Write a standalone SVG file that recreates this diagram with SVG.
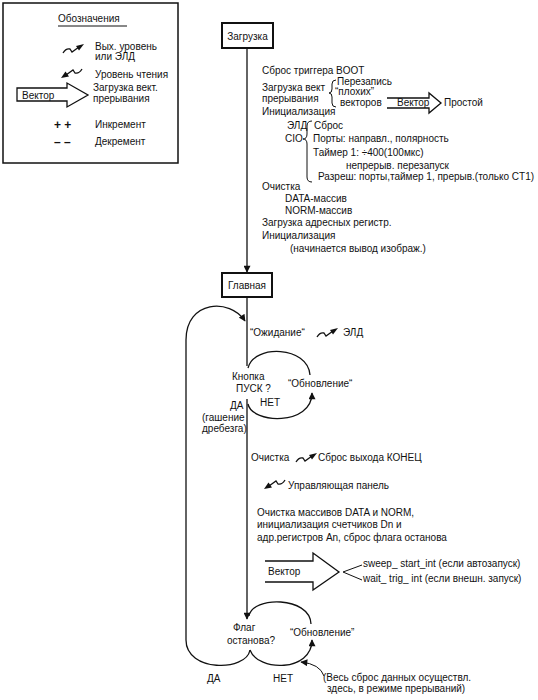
<svg xmlns="http://www.w3.org/2000/svg" xmlns:xlink="http://www.w3.org/1999/xlink" width="538" height="700" viewBox="0 0 538 700">
<style>
text{font-family:"Liberation Sans",Arial,sans-serif;font-size:10px;fill:#111}
.box{fill:#fff;stroke:#111;stroke-width:2}
.ln{fill:none;stroke:#111;stroke-width:1.3}
.thin{fill:none;stroke:#111;stroke-width:1}
.mid{text-anchor:middle}
.sign{font-size:12px;font-weight:bold}
</style>
<defs>
<marker id="ah" viewBox="0 0 10 10" refX="9" refY="5" markerWidth="8" markerHeight="7" markerUnits="userSpaceOnUse" orient="auto">
<path d="M0,0 L10,5 L0,10 Z" fill="#111"/>
</marker>
<g id="zOut">
<path d="M0,6 Q3,1 7,2 L9,5 L16,0" fill="none" stroke="#111" stroke-width="1.3"/>
<path d="M13,-1 L21,-3 L16,3.5 Z" fill="#111"/>
</g>
<g id="zIn">
<path d="M21,-3 Q18,2 14,1 L12,-2 L5,3" fill="none" stroke="#111" stroke-width="1.3"/>
<path d="M8,4.5 L0,6 L4.5,-0.5 Z" fill="#111"/>
</g>
</defs>
<rect width="538" height="700" fill="#fff"/>

<g id="legend">
<rect x="3" y="3" width="175" height="160" fill="none" stroke="#111" stroke-width="1.5"/>
<text x="58" y="22">Обозначения</text>
<line x1="58" y1="26" x2="127" y2="26" class="thin"/>
<use xlink:href="#zOut" href="#zOut" transform="translate(63,47)"/>
<text x="95" y="50">Вых. уровень</text>
<text x="95" y="60">или ЭЛД</text>
<use xlink:href="#zIn" href="#zIn" transform="translate(61,72)"/>
<text x="95" y="78">Уровень чтения</text>
<path d="M17,88 L67,88 L67,83 L88,95 L67,107 L67,101 L17,101 Z" class="ln"/>
<text x="22" y="99">Вектор</text>
<text x="93" y="91">Загрузка вект.</text>
<text x="93" y="102">прерывания</text>
<text x="54" y="129" class="sign">+ +</text>
<text x="95" y="128">Инкремент</text>
<text x="54" y="146" class="sign">– –</text>
<text x="95" y="145">Декремент</text>
</g>

<g id="connectors">
<line x1="247" y1="48" x2="247" y2="272" class="ln" marker-end="url(#ah)"/>
<line x1="247" y1="297" x2="247" y2="366" class="ln"/>
<path d="M186,640 L186,340 C186,300 230,298 245,321" class="ln" marker-end="url(#ah)"/>
<path d="M248,368 C254,344 308,346 310,375" class="ln"/>
<path d="M248,404 C252,424 312,426 312,393" class="ln" marker-end="url(#ah)"/>
<line x1="247" y1="399" x2="247" y2="619" class="ln" marker-end="url(#ah)"/>
<path d="M186,640 C186,672 246,672 250,650" class="ln"/>
<path d="M250,650 C258,672 312,672 312,640" class="ln" marker-end="url(#ah)"/>
<path d="M249,616 C252,596 310,596 311,624" class="ln"/>
<path d="M324,676 Q320,664 301,662" class="thin" marker-end="url(#ah)"/>
</g>

<g id="n-boot">
<rect x="222" y="23" width="51" height="25" class="box"/>
<text x="247.5" y="40" class="mid">Загрузка</text>
</g>

<g id="n-boot-steps">
<text x="262" y="74">Сброс триггера BOOT</text>
<text x="262" y="91">Загрузка вект</text>
<text x="262" y="102">прерывания</text>
<path d="M336,80 Q332,80 332,84 L332,89 Q332,93 329,93 Q332,93 332,97 L332,103 Q332,107 336,107" class="thin"/>
<text x="337" y="85">Перезапись</text>
<text x="335" y="95">“плохих”</text>
<text x="340" y="106">векторов</text>
<path d="M387,98 L429,98 L429,93 L441,103 L429,113 L429,108 L387,108" class="ln"/>
<text x="397" y="106">Вектор</text>
<text x="444" y="106">Простой</text>
<text x="262" y="115">Инициализация</text>
<text x="287" y="129">ЭЛД</text>
<path d="M312,121 Q307,121 307,126 L307,134 Q307,139 303,139 Q307,139 307,144 L307,177 Q307,182 312,182" class="thin"/>
<text x="314" y="129">Сброс</text>
<text x="285" y="142">CIO</text>
<text x="313" y="142">Порты: направл., полярность</text>
<text x="313" y="156">Таймер 1: ÷400(100мкс)</text>
<text x="346" y="169">непрерыв. перезапуск</text>
<text x="318" y="180">Разреш: порты,таймер 1, прерыв.(только CT1)</text>
<text x="262" y="190">Очистка</text>
<text x="285" y="202">DATA-массив</text>
<text x="285" y="214">NORM-массив</text>
<text x="262" y="226">Загрузка адресных регистр.</text>
<text x="262" y="239">Инициализация</text>
<text x="290" y="252">(начинается вывод изображ.)</text>
</g>

<g id="n-main">
<rect x="222" y="273" width="50" height="24" class="box"/>
<text x="247" y="289" class="mid">Главная</text>
</g>

<g id="n-wait">
<text x="250" y="336">“Ожидание“</text>
<use xlink:href="#zOut" href="#zOut" transform="translate(317,331)"/>
<text x="343" y="336">ЭЛД</text>
</g>

<g id="n-start">
<text x="232" y="380">Кнопка</text>
<text x="236" y="392">ПУСК ?</text>
<text x="288" y="387">“Обновление“</text>
<text x="260" y="406">НЕТ</text>
<text x="230" y="409">ДА</text>
<text x="202" y="421">(гашение</text>
<text x="202" y="432">дребезга)</text>
</g>

<g id="n-clear">
<text x="251" y="461">Очистка</text>
<use xlink:href="#zOut" href="#zOut" transform="translate(296,456)"/>
<text x="318" y="461">Сброс выхода КОНЕЦ</text>
<use xlink:href="#zIn" href="#zIn" transform="translate(264,483)"/>
<text x="288" y="489">Управляющая панель</text>
<text x="257" y="516">Очистка массивов DATA и NORM,</text>
<text x="257" y="528">инициализация счетчиков Dn  и</text>
<text x="257" y="541">адр.регистров An, сброс флага останова</text>
</g>

<g id="n-vector">
<path d="M265,561 L313,561 L313,553 L339,572 L313,590 L313,582 L265,582" class="ln"/>
<text x="268" y="575">Вектор</text>
<path d="M362,565 L343,572 L362,580" class="thin"/>
<text x="363" y="567">sweep_ start_int (если автозапуск)</text>
<text x="363" y="582">wait_ trig_ int (если внешн. запуск)</text>
</g>

<g id="n-stop">
<text x="233" y="631">Флаг</text>
<text x="227" y="644">останова?</text>
<text x="290" y="636">“Обновление”</text>
<text x="207" y="682">ДА</text>
<text x="273" y="682">НЕТ</text>
<text x="323" y="681">(Весь сброс данных осуществл.</text>
<text x="327" y="692">здесь, в режиме прерываний)</text>
</g>
</svg>
